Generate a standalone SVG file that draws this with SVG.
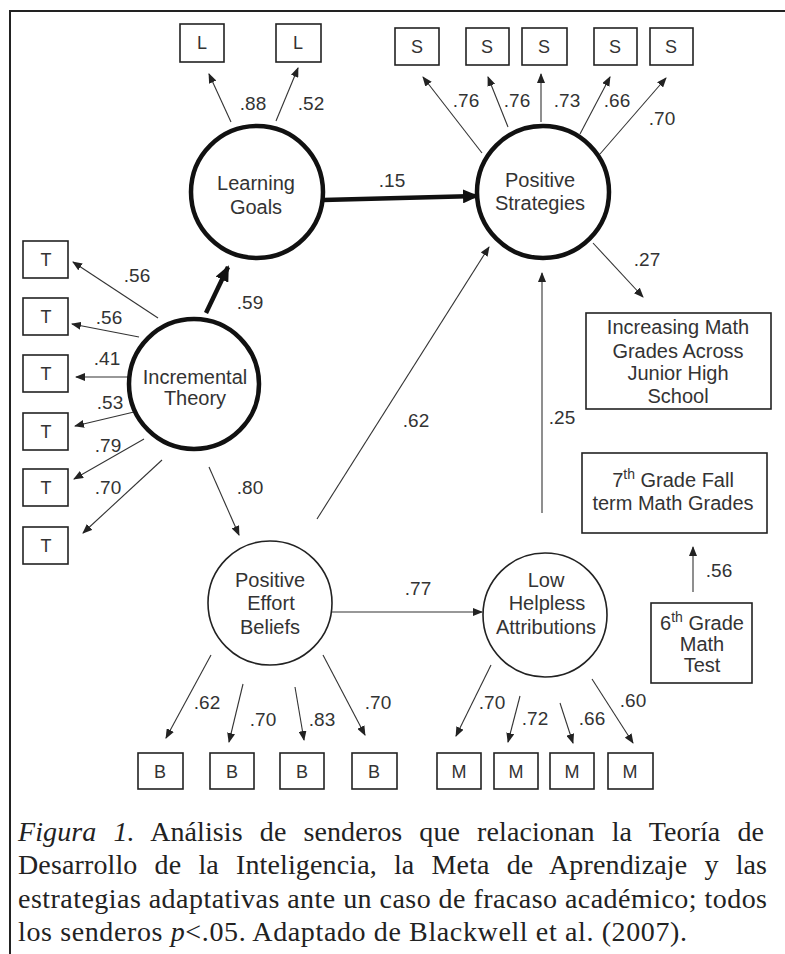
<svg xmlns="http://www.w3.org/2000/svg" width="785" height="954" viewBox="0 0 785 954">
<defs>
<marker id="ah" markerUnits="userSpaceOnUse" markerWidth="10" markerHeight="8" refX="9" refY="4" orient="auto">
<path d="M0,0 L10,4 L0,8 z" fill="#222"/>
</marker>
<marker id="ahb" markerUnits="userSpaceOnUse" markerWidth="16" markerHeight="14" refX="14" refY="7" orient="auto">
<path d="M0,0 L16,7 L0,14 z" fill="#111"/>
</marker>
</defs>
<style>
.box{fill:#fff;stroke:#222;stroke-width:1.6}
.lat-thick{fill:#fff;stroke:#111;stroke-width:4.5}
.lat-thin{fill:#fff;stroke:#222;stroke-width:1.6}
.t{font-family:"Liberation Sans",Arial,sans-serif;font-size:20px;fill:#333;text-anchor:middle}
.bl{font-family:"Liberation Sans",Arial,sans-serif;font-size:18px;fill:#333;text-anchor:middle}
.n{font-family:"Liberation Sans",Arial,sans-serif;font-size:19px;fill:#333;text-anchor:middle}
.a{stroke:#333;stroke-width:1.1;fill:none;marker-end:url(#ah)}
.ab{stroke:#111;stroke-width:4.5;fill:none;marker-end:url(#ahb)}
.cap{font-family:"Liberation Serif","Times New Roman",serif;font-size:28px;fill:#222}
</style>
<rect width="785" height="954" fill="#fff"/>
<path d="M10,954 L10,11 L785,11" fill="none" stroke="#222" stroke-width="2"/>

<g id="connectors">
<line class="a" x1="231" y1="122" x2="209" y2="74"/>
<line class="a" x1="276" y1="121" x2="298" y2="68"/>
<line class="a" x1="482" y1="153" x2="423" y2="77"/>
<line class="a" x1="508" y1="127" x2="488" y2="77"/>
<line class="a" x1="541" y1="122" x2="541" y2="74"/>
<line class="a" x1="580" y1="134" x2="610" y2="77"/>
<line class="a" x1="600" y1="154" x2="666" y2="78"/>
<line class="ab" x1="323" y1="200" x2="477" y2="196"/>
<line class="a" x1="158" y1="318" x2="73" y2="262"/>
<line class="a" x1="139" y1="337" x2="72" y2="324"/>
<line class="a" x1="128" y1="377" x2="76" y2="377"/>
<line class="a" x1="134" y1="412" x2="75" y2="426"/>
<line class="a" x1="144" y1="439" x2="74" y2="479"/>
<line class="a" x1="162" y1="460" x2="83" y2="533"/>
<line class="ab" x1="206" y1="313" x2="228" y2="267"/>
<line class="a" x1="209" y1="467" x2="239" y2="535"/>
<line class="a" x1="317" y1="519" x2="489" y2="247"/>
<line class="a" x1="542" y1="513" x2="542" y2="273" stroke="#666"/>
<line class="a" x1="593" y1="243" x2="643" y2="297"/>
<line class="a" x1="332" y1="612" x2="482" y2="612"/>
<line class="a" x1="693" y1="592" x2="693" y2="547"/>
<line class="a" x1="211" y1="655" x2="166" y2="738"/>
<line class="a" x1="243" y1="684" x2="229" y2="742"/>
<line class="a" x1="295" y1="687" x2="304" y2="740"/>
<line class="a" x1="323" y1="655" x2="365" y2="735"/>
<line class="a" x1="491" y1="665" x2="456" y2="736"/>
<line class="a" x1="520" y1="696" x2="508" y2="742"/>
<line class="a" x1="560" y1="703" x2="573" y2="743"/>
<line class="a" x1="592" y1="679" x2="633" y2="743"/>
<text class="n" x="253" y="110">.88</text>
<text class="n" x="311" y="110">.52</text>
<text class="n" x="466" y="107">.76</text>
<text class="n" x="517" y="107">.76</text>
<text class="n" x="567" y="107">.73</text>
<text class="n" x="617" y="107">.66</text>
<text class="n" x="662" y="125">.70</text>
<text class="n" x="392" y="187">.15</text>
<text class="n" x="137" y="282">.56</text>
<text class="n" x="109" y="324">.56</text>
<text class="n" x="107" y="365">.41</text>
<text class="n" x="110" y="409">.53</text>
<text class="n" x="108" y="452">.79</text>
<text class="n" x="108" y="494">.70</text>
<text class="n" x="250" y="309">.59</text>
<text class="n" x="250" y="494">.80</text>
<text class="n" x="416" y="427">.62</text>
<text class="n" x="562" y="424">.25</text>
<text class="n" x="647" y="266">.27</text>
<text class="n" x="418" y="595">.77</text>
<text class="n" x="719" y="577">.56</text>
<text class="n" x="207" y="709">.62</text>
<text class="n" x="263" y="726">.70</text>
<text class="n" x="322" y="726">.83</text>
<text class="n" x="378" y="709">.70</text>
<text class="n" x="492" y="709">.70</text>
<text class="n" x="535" y="725">.72</text>
<text class="n" x="592" y="725">.66</text>
<text class="n" x="633" y="707">.60</text>
</g>

<g id="L1"><rect class="box" x="180" y="24" width="44" height="38"/><text class="bl" x="202" y="49">L</text></g>
<g id="L2"><rect class="box" x="276" y="24" width="45" height="38"/><text class="bl" x="298" y="49">L</text></g>

<g id="S1"><rect class="box" x="395" y="28" width="44" height="37"/><text class="bl" x="417" y="53">S</text></g>
<g id="S2"><rect class="box" x="466" y="28" width="43" height="37"/><text class="bl" x="487" y="53">S</text></g>
<g id="S3"><rect class="box" x="522" y="28" width="45" height="37"/><text class="bl" x="544" y="53">S</text></g>
<g id="S4"><rect class="box" x="594" y="28" width="43" height="37"/><text class="bl" x="615" y="53">S</text></g>
<g id="S5"><rect class="box" x="650" y="28" width="43" height="37"/><text class="bl" x="671" y="53">S</text></g>

<g id="T1"><rect class="box" x="23" y="241" width="45" height="37"/><text class="bl" x="46" y="266">T</text></g>
<g id="T2"><rect class="box" x="23" y="298" width="45" height="37"/><text class="bl" x="46" y="323">T</text></g>
<g id="T3"><rect class="box" x="23" y="355" width="45" height="37"/><text class="bl" x="46" y="380">T</text></g>
<g id="T4"><rect class="box" x="23" y="413" width="45" height="37"/><text class="bl" x="46" y="438">T</text></g>
<g id="T5"><rect class="box" x="23" y="469" width="45" height="37"/><text class="bl" x="46" y="494">T</text></g>
<g id="T6"><rect class="box" x="23" y="527" width="45" height="37"/><text class="bl" x="46" y="552">T</text></g>

<g id="B1"><rect class="box" x="138" y="753" width="45" height="36"/><text class="bl" x="160" y="778">B</text></g>
<g id="B2"><rect class="box" x="210" y="753" width="44" height="36"/><text class="bl" x="232" y="778">B</text></g>
<g id="B3"><rect class="box" x="280" y="753" width="44" height="36"/><text class="bl" x="302" y="778">B</text></g>
<g id="B4"><rect class="box" x="352" y="753" width="45" height="36"/><text class="bl" x="374" y="778">B</text></g>

<g id="M1"><rect class="box" x="437" y="753" width="44" height="36"/><text class="bl" x="459" y="778">M</text></g>
<g id="M2"><rect class="box" x="494" y="753" width="44" height="36"/><text class="bl" x="516" y="778">M</text></g>
<g id="M3"><rect class="box" x="550" y="753" width="44" height="36"/><text class="bl" x="572" y="778">M</text></g>
<g id="M4"><rect class="box" x="608" y="753" width="45" height="36"/><text class="bl" x="630" y="778">M</text></g>

<g id="learning-goals"><circle class="lat-thick" cx="257" cy="192" r="66"/><text class="t" x="256" y="190">Learning</text><text class="t" x="256" y="214">Goals</text></g>
<g id="positive-strategies"><circle class="lat-thick" cx="543" cy="192" r="66"/><text class="t" x="540" y="187">Positive</text><text class="t" x="540" y="210">Strategies</text></g>
<g id="incremental-theory"><circle class="lat-thick" cx="194" cy="384" r="65"/><text class="t" x="195" y="384">Incremental</text><text class="t" x="195" y="405">Theory</text></g>
<g id="positive-effort-beliefs"><circle class="lat-thin" cx="270" cy="603" r="62"/><text class="t" x="270" y="587">Positive</text><text class="t" x="271" y="610">Effort</text><text class="t" x="270" y="634">Beliefs</text></g>
<g id="low-helpless"><circle class="lat-thin" cx="545" cy="615" r="62"/><text class="t" x="546" y="587">Low</text><text class="t" x="547" y="610">Helpless</text><text class="t" x="546" y="634">Attributions</text></g>

<g id="increasing-math"><rect class="box" x="586" y="313" width="185" height="96"/><text class="t" x="678" y="334">Increasing Math</text><text class="t" x="678" y="358">Grades Across</text><text class="t" x="678" y="380">Junior High</text><text class="t" x="678" y="403">School</text></g>
<g id="grade7"><rect class="box" x="582" y="453" width="185" height="80"/><text class="t" x="673" y="487">7<tspan font-size="14" dy="-8">th</tspan><tspan dy="8"> Grade Fall</tspan></text><text class="t" x="673" y="510">term Math Grades</text></g>
<g id="grade6"><rect class="box" x="651" y="603" width="101" height="80"/><text class="t" x="702" y="630">6<tspan font-size="14" dy="-8">th</tspan><tspan dy="8"> Grade</tspan></text><text class="t" x="702" y="651">Math</text><text class="t" x="702" y="672">Test</text></g>

<g id="caption">
<text class="cap" x="18" y="841" word-spacing="10" textLength="746" lengthAdjust="spacing"><tspan font-style="italic">Figura 1.</tspan> Análisis de senderos que relacionan la Teoría de</text>
<text class="cap" x="18" y="874" word-spacing="10" textLength="749" lengthAdjust="spacing">Desarrollo de la Inteligencia, la Meta de Aprendizaje y las</text>
<text class="cap" x="18" y="908" textLength="749" lengthAdjust="spacing">estrategias adaptativas ante un caso de fracaso académico; todos</text>
<text class="cap" x="18" y="941" textLength="669" lengthAdjust="spacing">los senderos <tspan font-style="italic">p</tspan>&lt;.05. Adaptado de Blackwell et al. (2007).</text>
</g>
</svg>
